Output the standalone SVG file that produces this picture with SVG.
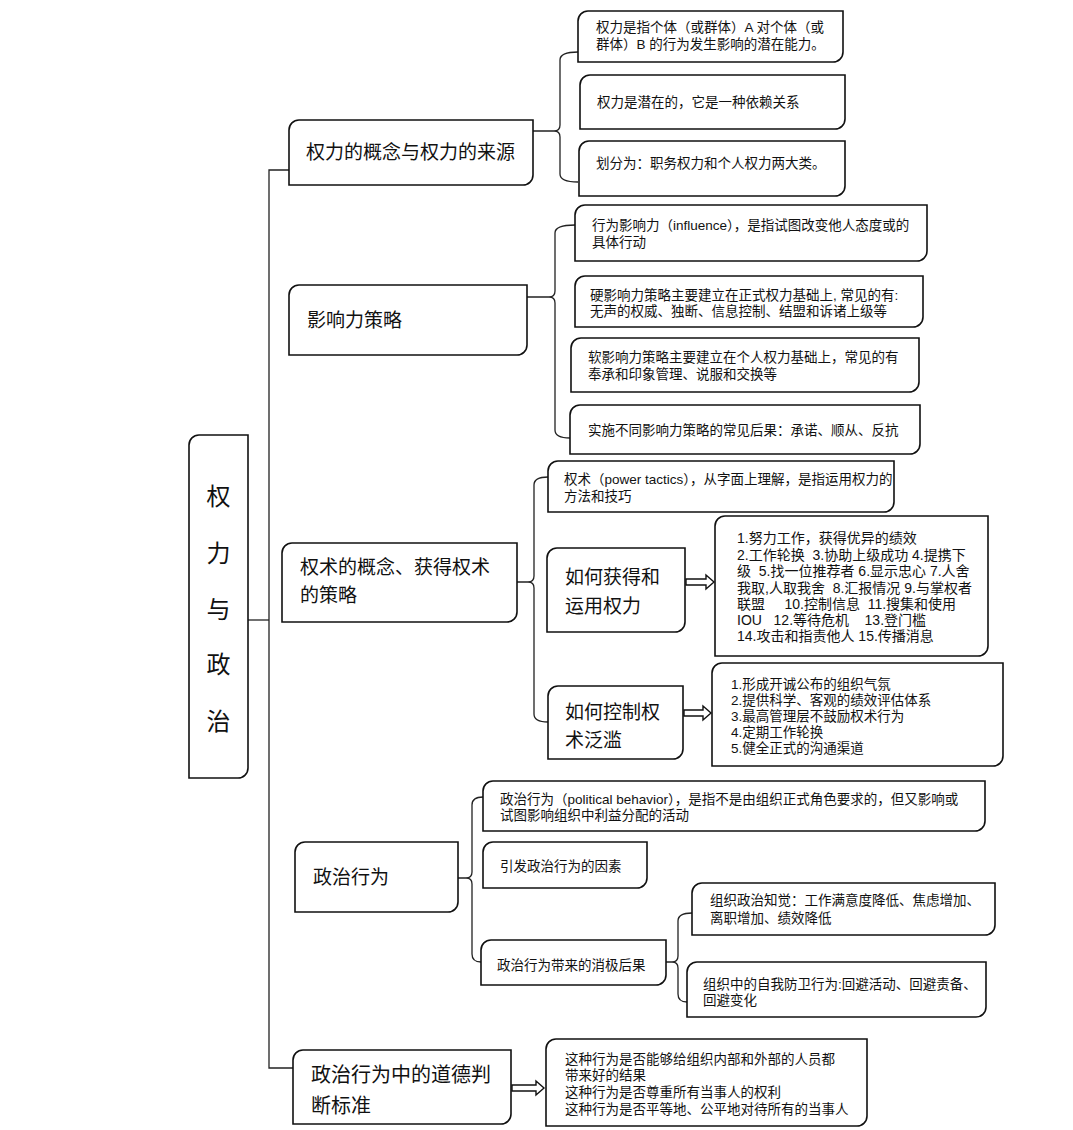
<svg xmlns="http://www.w3.org/2000/svg" width="1073" height="1130" viewBox="0 0 1073 1130">
<style>
.box{fill:#fff;stroke:#111;stroke-width:1.6}
.ln{fill:none;stroke:#222;stroke-width:1.3}
.arr{fill:#fff;stroke:#111;stroke-width:1.4;stroke-linejoin:miter}
text{font-family:"Liberation Sans","Noto Sans CJK SC",sans-serif;fill:#111;white-space:pre}
.t1{font-size:19px}
.t2{font-size:13.5px}
.t3{font-size:14px}
.root{font-size:24px}
</style>
<rect width="1073" height="1130" fill="#fff"/>
<g id="connectors">
<path class="ln" d="M289,170 H269 V1068 H293"/>
<path class="ln" d="M248,620 H269"/>
<path class="ln" d="M533,131 H554 M578,52 Q560,52 560,60 V125 Q560,131 554,131 Q560,131 560,137 V174 Q560,182 578,182"/>
<path class="ln" d="M527,297 H549 M575,225 Q555,225 555,233 V291 Q555,297 549,297 Q555,297 555,303 V430 Q555,438 570,438"/>
<path class="ln" d="M517,582 H528 M548,477 Q534,477 534,485 V576 Q534,582 528,582 Q534,582 534,588 V714 Q534,722 548,722"/>
<path class="ln" d="M458,878 H466 M483,797 Q472,797 472,805 V872 Q472,878 466,878 Q472,878 472,884 V954 Q472,962 481,962"/>
<path class="ln" d="M666,962 H672 M692,913 Q678,913 678,921 V956 Q678,962 672,962 Q678,962 678,968 V994 Q678,1002 687,1002"/>
<polygon class="arr" points="686,579 706,579 706,575 714,582 706,589 706,585 686,585"/>
<polygon class="arr" points="684,710 703,710 703,706 711,713 703,720 703,716 684,716"/>
<polygon class="arr" points="512,1085 536,1085 536,1081 544,1088 536,1095 536,1091 512,1091"/>
</g>
<g id="root">
<path class="box" d="M199,435 H248 V768 A10,10 0 0 1 238,778 H189 V445 A10,10 0 0 1 199,435 Z"/>
<text class="root" x="218.5" y="505" text-anchor="middle">权</text>
<text class="root" x="218.5" y="562" text-anchor="middle">力</text>
<text class="root" x="218.5" y="618" text-anchor="middle">与</text>
<text class="root" x="218.5" y="673" text-anchor="middle">政</text>
<text class="root" x="218.5" y="730" text-anchor="middle">治</text>
</g>
<g id="n1">
<path class="box" d="M299,120 H533 V175 A10,10 0 0 1 523,185 H289 V130 A10,10 0 0 1 299,120 Z"/>
<text class="t1" x="306" y="159">权力的概念与权力的来源</text>
</g>
<g id="n1a">
<path class="box" d="M588,11 H843 V52 A10,10 0 0 1 833,62 H578 V21 A10,10 0 0 1 588,11 Z"/>
<text class="t2" x="596" y="32">权力是指个体（或群体）A 对个体（或</text>
<text class="t2" x="596" y="49">群体）B 的行为发生影响的潜在能力。</text>
</g>
<g id="n1b">
<path class="box" d="M590,75 H845 V119 A10,10 0 0 1 835,129 H580 V85 A10,10 0 0 1 590,75 Z"/>
<text class="t2" x="597" y="107">权力是潜在的，它是一种依赖关系</text>
</g>
<g id="n1c">
<path class="box" d="M589,141 H845 V186 A10,10 0 0 1 835,196 H579 V151 A10,10 0 0 1 589,141 Z"/>
<text class="t2" x="596" y="168">划分为：职务权力和个人权力两大类。</text>
</g>
<g id="n2">
<path class="box" d="M299,285 H527 V345 A10,10 0 0 1 517,355 H289 V295 A10,10 0 0 1 299,285 Z"/>
<text class="t1" x="307" y="327">影响力策略</text>
</g>
<g id="n2a">
<path class="box" d="M585,205 H927 V251 A10,10 0 0 1 917,261 H575 V215 A10,10 0 0 1 585,205 Z"/>
<text class="t2" x="592" y="230">行为影响力（influence），是指试图改变他人态度或的</text>
<text class="t2" x="592" y="247">具体行动</text>
</g>
<g id="n2b">
<path class="box" d="M585,276 H923 V317 A10,10 0 0 1 913,327 H575 V286 A10,10 0 0 1 585,276 Z"/>
<text class="t2" x="590" y="300">硬影响力策略主要建立在正式权力基础上, 常见的有:</text>
<text class="t2" x="590" y="316">无声的权威、独断、信息控制、结盟和诉诸上级等</text>
</g>
<g id="n2c">
<path class="box" d="M581,338 H919 V382 A10,10 0 0 1 909,392 H571 V348 A10,10 0 0 1 581,338 Z"/>
<text class="t2" x="588" y="362">软影响力策略主要建立在个人权力基础上，常见的有</text>
<text class="t2" x="588" y="379">奉承和印象管理、说服和交换等</text>
</g>
<g id="n2d">
<path class="box" d="M580,405 H920 V444 A10,10 0 0 1 910,454 H570 V415 A10,10 0 0 1 580,405 Z"/>
<text class="t2" x="588" y="435">实施不同影响力策略的常见后果：承诺、顺从、反抗</text>
</g>
<g id="n3">
<path class="box" d="M292,543 H517 V612 A10,10 0 0 1 507,622 H282 V553 A10,10 0 0 1 292,543 Z"/>
<text class="t1" x="300" y="574">权术的概念、获得权术</text>
<text class="t1" x="300" y="602">的策略</text>
</g>
<g id="n3a">
<path class="box" d="M558,461 H894 V502 A10,10 0 0 1 884,512 H548 V471 A10,10 0 0 1 558,461 Z"/>
<text class="t2" x="564" y="484">权术（power tactics），从字面上理解，是指运用权力的</text>
<text class="t2" x="564" y="501">方法和技巧</text>
</g>
<g id="n3b">
<path class="box" d="M557,548 H685 V622 A10,10 0 0 1 675,632 H547 V558 A10,10 0 0 1 557,548 Z"/>
<text class="t1" x="565" y="584">如何获得和</text>
<text class="t1" x="565" y="613">运用权力</text>
</g>
<g id="n3b1">
<path class="box" d="M725,516 H988 V646 A10,10 0 0 1 978,656 H715 V526 A10,10 0 0 1 725,516 Z"/>
<text class="t3" x="737" y="543">1.努力工作，获得优异的绩效</text>
<text class="t3" x="737" y="560">2.工作轮换  3.协助上级成功 4.提携下</text>
<text class="t3" x="737" y="576">级  5.找一位推荐者 6.显示忠心 7.人舍</text>
<text class="t3" x="737" y="593">我取,人取我舍  8.汇报情况 9.与掌权者</text>
<text class="t3" x="737" y="609">联盟     10.控制信息  11.搜集和使用</text>
<text class="t3" x="737" y="625">IOU   12.等待危机    13.登门槛</text>
<text class="t3" x="737" y="641">14.攻击和指责他人 15.传播消息</text>
</g>
<g id="n3c">
<path class="box" d="M558,686 H683 V749 A10,10 0 0 1 673,759 H548 V696 A10,10 0 0 1 558,686 Z"/>
<text class="t1" x="565" y="719">如何控制权</text>
<text class="t1" x="565" y="747">术泛滥</text>
</g>
<g id="n3c1">
<path class="box" d="M722,663 H1003 V756 A10,10 0 0 1 993,766 H712 V673 A10,10 0 0 1 722,663 Z"/>
<text class="t2" x="731" y="689">1.形成开诚公布的组织气氛</text>
<text class="t2" x="731" y="705">2.提供科学、客观的绩效评估体系</text>
<text class="t2" x="731" y="721">3.最高管理层不鼓励权术行为</text>
<text class="t2" x="731" y="737">4.定期工作轮换</text>
<text class="t2" x="731" y="753">5.健全正式的沟通渠道</text>
</g>
<g id="n4">
<path class="box" d="M305,842 H458 V902 A10,10 0 0 1 448,912 H295 V852 A10,10 0 0 1 305,842 Z"/>
<text class="t1" x="313" y="884">政治行为</text>
</g>
<g id="n4a">
<path class="box" d="M493,781 H985 V821 A10,10 0 0 1 975,831 H483 V791 A10,10 0 0 1 493,781 Z"/>
<text class="t2" x="500" y="804">政治行为（political behavior），是指不是由组织正式角色要求的，但又影响或</text>
<text class="t2" x="500" y="820">试图影响组织中利益分配的活动</text>
</g>
<g id="n4b">
<path class="box" d="M493,842 H647 V878 A10,10 0 0 1 637,888 H483 V852 A10,10 0 0 1 493,842 Z"/>
<text class="t2" x="500" y="871">引发政治行为的因素</text>
</g>
<g id="n4c">
<path class="box" d="M491,940 H666 V975 A10,10 0 0 1 656,985 H481 V950 A10,10 0 0 1 491,940 Z"/>
<text class="t2" x="497" y="970">政治行为带来的消极后果</text>
</g>
<g id="n4c1">
<path class="box" d="M702,883 H995 V925 A10,10 0 0 1 985,935 H692 V893 A10,10 0 0 1 702,883 Z"/>
<text class="t2" x="710" y="905">组织政治知觉：工作满意度降低、焦虑增加、</text>
<text class="t2" x="710" y="923">离职增加、绩效降低</text>
</g>
<g id="n4c2">
<path class="box" d="M697,962 H986 V1007 A10,10 0 0 1 976,1017 H687 V972 A10,10 0 0 1 697,962 Z"/>
<text class="t2" x="703" y="989">组织中的自我防卫行为:回避活动、回避责备、</text>
<text class="t2" x="703" y="1005">回避变化</text>
</g>
<g id="n5">
<path class="box" d="M303,1050 H511 V1114 A10,10 0 0 1 501,1124 H293 V1060 A10,10 0 0 1 303,1050 Z"/>
<text class="t1" x="311" y="1082" style="font-size:20px">政治行为中的道德判</text>
<text class="t1" x="311" y="1113" style="font-size:20px">断标准</text>
</g>
<g id="n5a">
<path class="box" d="M556,1039 H867 V1116 A10,10 0 0 1 857,1126 H546 V1049 A10,10 0 0 1 556,1039 Z"/>
<text class="t2" x="565" y="1064">这种行为是否能够给组织内部和外部的人员都</text>
<text class="t2" x="565" y="1080">带来好的结果</text>
<text class="t2" x="565" y="1097">这种行为是否尊重所有当事人的权利</text>
<text class="t2" x="565" y="1114">这种行为是否平等地、公平地对待所有的当事人</text>
</g>
</svg>
